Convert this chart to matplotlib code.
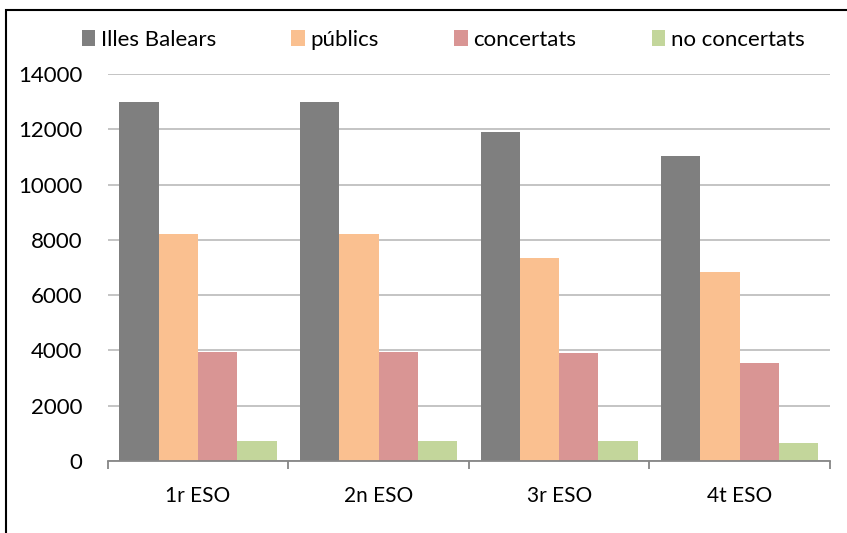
import matplotlib
matplotlib.use("Agg")
import matplotlib.pyplot as plt
import numpy as np
from matplotlib.patches import Patch, Rectangle

categories = ["1r ESO", "2n ESO", "3r ESO", "4t ESO"]
series_names = ["Illes Balears", "públics", "concertats", "no concertats"]
illes_balears = [12970, 12970, 11890, 11020]
publics = [8210, 8210, 7340, 6835]
concertats = [3950, 3950, 3895, 3535]
no_concertats = [723, 723, 723, 651]
yticks = [0, 2000, 4000, 6000, 8000, 10000, 12000, 14000]

colors = ["#7F7F7F", "#FAC090", "#D99594", "#C3D69B"]
series = [illes_balears, publics, concertats, no_concertats]

plt.rcParams['font.family'] = ['Lato', 'DejaVu Sans']

fig = plt.figure(figsize=(8.47, 5.33), dpi=100)
ax = fig.add_axes([107.7/847, 72/533, (830-107.7)/847, (461-74)/533])

x = np.arange(len(categories))
bw = 0.2175
for k, (vals, c) in enumerate(zip(series, colors)):
    ax.bar(x + (k - 1.5) * bw, vals, width=bw, color=c, edgecolor='none', zorder=3)

ax.set_xlim(-0.5, len(categories) - 0.5)
ax.set_ylim(0, 14000)
ax.set_yticks(yticks)
ax.set_yticklabels([str(v) for v in yticks], fontsize=16)
ax.tick_params(axis='y', length=0, pad=18)
ax.yaxis.grid(True, color='#BFBFBF', linewidth=1.3, zorder=0)
ax.set_axisbelow(True)

ax.set_xticks(x)
ax.set_xticklabels(categories, fontsize=15)
ax.tick_params(axis='x', length=0, pad=18)
ax.set_xticks(np.arange(-0.5, len(categories)), minor=True)
ax.tick_params(axis='x', which='minor', length=6, width=1.3, color='#868686', direction='out')

for s in ['left', 'right', 'top']:
    ax.spines[s].set_visible(False)
ax.spines['bottom'].set_color('#868686')
ax.spines['bottom'].set_linewidth(1.3)
ax.spines['bottom'].set_zorder(4)

handles = [Patch(facecolor=c, edgecolor='none') for c in colors]
fig.legend(handles, series_names, loc='center', bbox_to_anchor=(443/847, 1 - 40/533),
           ncol=4, frameon=False, fontsize=16, handlelength=0.6, handleheight=0.7,
           handletextpad=0.25, columnspacing=3.4)

fig.patches.append(Rectangle((6/847, -0.5), 2.0, 1 - 10/533 + 0.5, transform=fig.transFigure,
                             fill=False, edgecolor='black', linewidth=1.5))

fig.savefig("out.png", dpi=100)
